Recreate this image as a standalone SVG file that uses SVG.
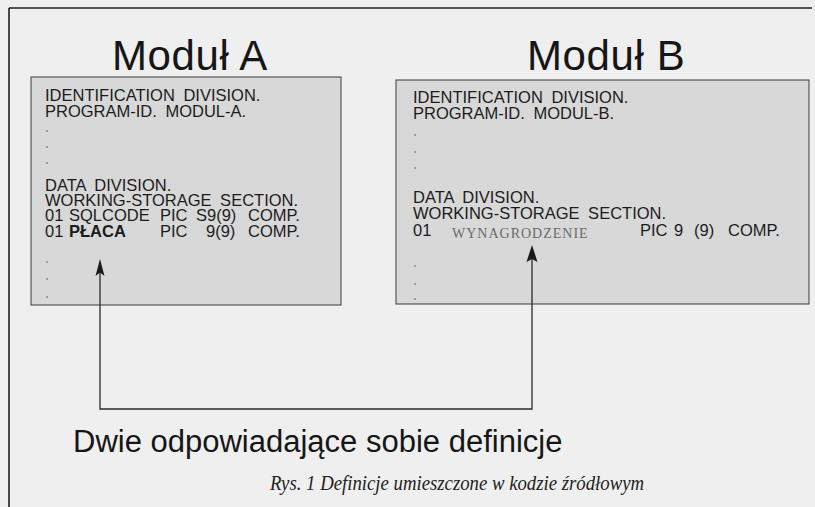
<svg xmlns="http://www.w3.org/2000/svg" width="815" height="507" viewBox="0 0 815 507">
  <style>
    .title { font-family: "Liberation Sans", Arial, sans-serif; font-size: 42px; letter-spacing: 0.6px; fill: #161616; }
    .code { font-family: "Liberation Sans", Arial, sans-serif; font-size: 16.5px; word-spacing: 4px; fill: #1c1c1c; }
    .bold { font-weight: bold; }
    .serif { font-family: "Liberation Serif", "Times New Roman", serif; font-size: 14px; fill: #6a6a6a; letter-spacing: 1px; word-spacing: 0; }
    .box { fill: #d8d8d8; stroke: #4a4a4a; stroke-width: 1.1; }
    .dot { fill: #8a8a8a; }
    .wire { fill: none; stroke: #2a2a2a; stroke-width: 1.3; }
    .head { fill: #1a1a1a; }
    .label { font-family: "Liberation Sans", Arial, sans-serif; font-size: 31px; fill: #161616; }
    .caption { font-family: "Liberation Serif", "Times New Roman", serif; font-style: italic; font-size: 22px; fill: #222; }
  </style>

  <!-- page background -->
  <rect x="0" y="0" width="815" height="507" fill="#efefef"/>

  <!-- frame rules -->
  <g id="frame" stroke="#1e1e1e" stroke-width="1.6" fill="none">
    <line x1="9" y1="8" x2="812" y2="8"/>
    <line x1="9" y1="8" x2="9" y2="507"/>
  </g>

  <!-- module A: title, listing box, COBOL listing -->
  <g id="module-a">
    <text class="title" x="112" y="70">Moduł A</text>
    <rect class="box" x="31" y="77" width="310" height="228"/>
    <text class="code">
      <tspan x="45" y="101">IDENTIFICATION DIVISION.</tspan>
      <tspan x="45" y="117">PROGRAM-ID. MODUL-A.</tspan>
      <tspan x="45" y="191">DATA DIVISION.</tspan>
      <tspan x="45" y="206">WORKING-STORAGE SECTION.</tspan>
      <tspan x="45" y="221">01</tspan><tspan x="69" y="221">SQLCODE</tspan><tspan x="160" y="221">PIC</tspan><tspan x="196" y="221">S9(9)</tspan><tspan x="248" y="221">COMP.</tspan>
      <tspan x="45" y="237">01</tspan><tspan x="69" y="237" class="bold">PŁACA</tspan><tspan x="160" y="237">PIC</tspan><tspan x="206" y="237">9(9)</tspan><tspan x="248" y="237">COMP.</tspan>
    </text>
    <circle class="dot" cx="47" cy="131" r="1"/>
    <circle class="dot" cx="47" cy="147" r="1"/>
    <circle class="dot" cx="47" cy="163" r="1"/>
    <circle class="dot" cx="47" cy="262" r="1"/>
    <circle class="dot" cx="47" cy="279" r="1"/>
    <circle class="dot" cx="47" cy="297" r="1"/>
  </g>

  <!-- module B: title, listing box, COBOL listing -->
  <g id="module-b">
    <text class="title" x="527" y="70">Moduł B</text>
    <rect class="box" x="396" y="80" width="413" height="224"/>
    <text class="code">
      <tspan x="413" y="103">IDENTIFICATION DIVISION.</tspan>
      <tspan x="413" y="119">PROGRAM-ID. MODUL-B.</tspan>
      <tspan x="413" y="203">DATA DIVISION.</tspan>
      <tspan x="413" y="219">WORKING-STORAGE SECTION.</tspan>
      <tspan x="413" y="236">01</tspan><tspan x="452" y="238" class="serif">WYNAGRODZENIE</tspan><tspan x="640" y="236">PIC</tspan><tspan x="674" y="236">9</tspan><tspan x="694" y="236">(9)</tspan><tspan x="728" y="236">COMP.</tspan>
    </text>
    <circle class="dot" cx="415" cy="135" r="1"/>
    <circle class="dot" cx="415" cy="152" r="1"/>
    <circle class="dot" cx="415" cy="168" r="1"/>
    <circle class="dot" cx="415" cy="266" r="1"/>
    <circle class="dot" cx="415" cy="284" r="1"/>
    <circle class="dot" cx="415" cy="299" r="1"/>
  </g>

  <!-- connector linking the two matching definitions -->
  <g id="connectors">
    <polyline class="wire" points="100,272 100,409 532,409 532,258"/>
    <path class="head" d="M100,259 L95.5,276 L100,272.5 L104.5,276 Z"/>
    <path class="head" d="M532,245 L526.5,262 L532,259 L537.5,262 Z"/>
  </g>

  <g id="label">
    <text class="label" x="73" y="452">Dwie odpowiadające sobie definicje</text>
  </g>

  <g id="caption">
    <text class="caption" x="270" y="490" textLength="374" lengthAdjust="spacingAndGlyphs">Rys. 1 Definicje umieszczone w kodzie źródłowym</text>
  </g>
</svg>
